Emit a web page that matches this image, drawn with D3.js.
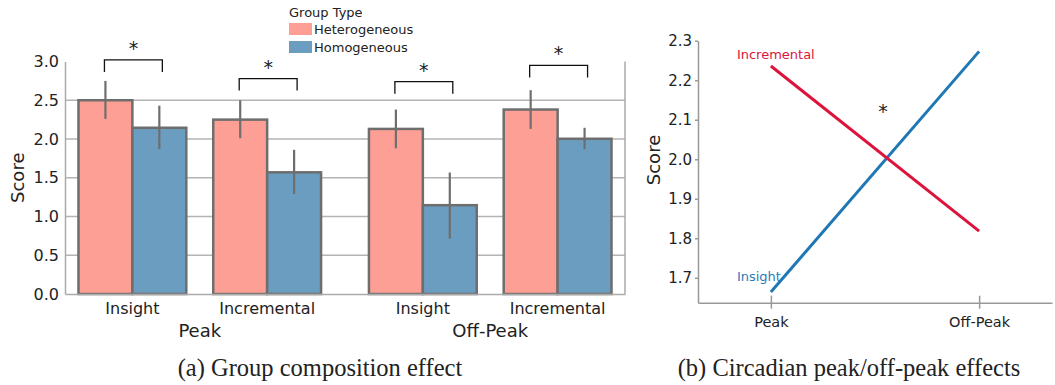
<!DOCTYPE html>
<html>
<head>
<meta charset="utf-8">
<script src="https://cdn.jsdelivr.net/npm/d3@7"></script>
<style>
  body { margin: 0; background: #fff; }
  text { font-family: "DejaVu Sans", Verdana, sans-serif; fill: #222; }
  .caption { font-family: "Liberation Serif", "DejaVu Serif", serif; }
</style>
</head>
<body>
<div id="chart"></div>
<script>
// ---- data: (a) group composition ----
var phases = ["Peak", "Off-Peak"];
var tasks = ["Insight", "Incremental"];
var groupTypes = ["Heterogeneous", "Homogeneous"];
// order: Peak-Insight, Peak-Incremental, Off-Peak-Insight, Off-Peak-Incremental
var heteroMeans = [2.50, 2.25, 2.13, 2.38];
var heteroLow = [2.26, 2.01, 1.88, 2.13];
var heteroHigh = [2.75, 2.50, 2.38, 2.63];
var homoMeans = [2.145, 1.57, 1.146, 2.003];
var homoLow = [1.87, 1.29, 0.715, 1.87];
var homoHigh = [2.43, 1.86, 1.567, 2.145];
var bracketTops = [3.02, 2.78, 2.74, 2.95];
var scoreTicks = [0, 0.5, 1.0, 1.5, 2.0, 2.5, 3.0];

// ---- data: (b) circadian ----
var insightScores = [1.664, 2.273];
var incrementalScores = [2.236, 1.818];
var circTicks = [1.7, 1.8, 1.9, 2.0, 2.1, 2.2, 2.3];
var circStarScore = 2.13;

var colors = { Heterogeneous: "#fe9f95", Homogeneous: "#6b9dc0" };
var lineColors = { Insight: "#1f77b4", Incremental: "#dc143c" };

var svg = d3.select("#chart")
    .append("svg")
    .attr("width", 1055)
    .attr("height", 385);

// =========== panel (a) ===========
var a = { left: 65, right: 625, top: 61.5, bottom: 294 };

var yA = d3.scaleLinear().domain([0, 3]).range([a.bottom, a.top]);
var xOuter = d3.scaleBand().domain(phases).range([a.left, a.right])
    .paddingInner(0.072).paddingOuter(0);
var xInner = d3.scaleBand().domain(tasks).range([0, xOuter.bandwidth()])
    .paddingInner(0.2).paddingOuter(0.1);
var xGroup = d3.scaleBand().domain(groupTypes).range([0, xInner.bandwidth()]);

// gridlines
svg.append("g").selectAll("line")
    .data(scoreTicks.slice(1, -1))
    .enter()
    .append("line")
    .attr("x1", a.left).attr("x2", a.right)
    .attr("y1", d => yA(d)).attr("y2", d => yA(d))
    .attr("stroke", "#b4b4b4")
    .attr("stroke-width", 1.5);

// right frame
svg.append("line")
    .attr("x1", a.right).attr("x2", a.right)
    .attr("y1", a.top).attr("y2", a.bottom)
    .attr("stroke", "#aaa").attr("stroke-width", 1.5);

var rows = [];
phases.forEach(function (p, pi) {
    tasks.forEach(function (t, ti) {
        var i = pi * 2 + ti;
        rows.push({ phase: p, task: t, group: "Heterogeneous", mean: heteroMeans[i], lo: heteroLow[i], hi: heteroHigh[i], idx: i });
        rows.push({ phase: p, task: t, group: "Homogeneous", mean: homoMeans[i], lo: homoLow[i], hi: homoHigh[i], idx: i });
    });
});

function barX(d) { return xOuter(d.phase) + xInner(d.task) + xGroup(d.group); }

svg.append("g").selectAll("rect")
    .data(rows)
    .enter()
    .append("rect")
    .attr("x", d => barX(d))
    .attr("y", d => yA(d.mean))
    .attr("width", xGroup.bandwidth())
    .attr("height", d => yA(0) - yA(d.mean))
    .attr("fill", d => colors[d.group])
    .attr("stroke", "#6e6e6e")
    .attr("stroke-width", 2.5);

svg.append("g").selectAll("line")
    .data(rows)
    .enter()
    .append("line")
    .attr("x1", d => barX(d) + xGroup.bandwidth() / 2)
    .attr("x2", d => barX(d) + xGroup.bandwidth() / 2)
    .attr("y1", d => yA(d.lo))
    .attr("y2", d => yA(d.hi))
    .attr("stroke", "#6e6e6e")
    .attr("stroke-width", 2.2);

// axes
svg.append("g")
    .attr("transform", `translate(${a.left},0)`)
    .call(d3.axisLeft(yA).tickValues(scoreTicks).tickFormat(d3.format(".1f")).tickSize(0).tickPadding(6))
    .call(g => g.select(".domain").attr("stroke", "#aaa").attr("stroke-width", 1.5))
    .call(g => g.selectAll("text").attr("font-size", 16).attr("font-family", "DejaVu Sans").attr("fill", "#222"));

svg.append("g")
    .attr("transform", `translate(0,${a.bottom})`)
    .call(d3.axisBottom(xOuter).tickSize(0).tickPadding(30))
    .call(g => g.select(".domain").attr("stroke", "#aaa").attr("stroke-width", 1.5))
    .call(g => g.selectAll("text").attr("font-size", 18).attr("font-family", "DejaVu Sans").attr("fill", "#222"));

phases.forEach(function (p) {
    svg.append("g")
        .attr("transform", `translate(${xOuter(p)},${a.bottom})`)
        .call(d3.axisBottom(xInner).tickSize(0).tickPadding(9))
        .call(g => g.select(".domain").remove())
        .call(g => g.selectAll("text").attr("font-size", 16).attr("font-family", "DejaVu Sans").attr("fill", "#222"));
});

svg.append("text")
    .attr("transform", "rotate(-90)")
    .attr("x", -(a.top + a.bottom) / 2)
    .attr("y", 24)
    .attr("text-anchor", "middle")
    .attr("font-size", 18)
    .text("Score");

// significance brackets
var pairs = [];
phases.forEach(function (p, pi) {
    tasks.forEach(function (t, ti) {
        var x0 = xOuter(p) + xInner(t);
        pairs.push({ x1: x0 + xGroup.bandwidth() / 2 - 1, x2: x0 + xGroup.bandwidth() * 1.5 + 3, top: bracketTops[pi * 2 + ti] });
    });
});

svg.append("g").selectAll("path")
    .data(pairs)
    .enter()
    .append("path")
    .attr("d", d => `M${d.x1},${yA(d.top) + 12}V${yA(d.top)}H${d.x2}V${yA(d.top) + 12}`)
    .attr("fill", "none")
    .attr("stroke", "#111")
    .attr("stroke-width", 1.3);

svg.append("g").selectAll("text")
    .data(pairs)
    .enter()
    .append("text")
    .attr("x", d => (d.x1 + d.x2) / 2)
    .attr("y", d => yA(d.top) - 5)
    .attr("text-anchor", "middle")
    .attr("font-size", 19)
    .text("*");

// legend
var legend = svg.append("g").attr("transform", "translate(289,0)");
legend.append("text").attr("x", 0).attr("y", 17).attr("font-size", 13).text("Group Type");
groupTypes.forEach(function (g, i) {
    legend.append("rect")
        .attr("x", 0).attr("y", 23 + i * 18)
        .attr("width", 23).attr("height", 12)
        .attr("fill", colors[g]);
    legend.append("text")
        .attr("x", 25).attr("y", 34 + i * 18)
        .attr("font-size", 13)
        .text(g);
});

svg.append("text")
    .attr("class", "caption")
    .attr("x", 320).attr("y", 376)
    .attr("text-anchor", "middle")
    .attr("font-size", 24.5)
    .text("(a) Group composition effect");

// =========== panel (b) ===========
var b = { left: 698, right: 1052, top: 40.7, bottom: 302.7 };

var yB = d3.scaleLinear().domain([1.637, 2.3]).range([b.bottom, b.top]);
var xB = d3.scalePoint().domain(phases).range([b.left, b.right]).padding(0.35);

svg.append("g")
    .attr("transform", `translate(${b.left},0)`)
    .call(d3.axisLeft(yB).tickValues(circTicks).tickFormat(d3.format(".1f")).tickSizeInner(3).tickSizeOuter(0).tickPadding(3))
    .call(g => g.selectAll("line, .domain").attr("stroke", "#999").attr("stroke-width", 1.5))
    .call(g => g.selectAll("text").attr("font-size", 15).attr("font-family", "DejaVu Sans").attr("fill", "#222"));

svg.append("g")
    .attr("transform", `translate(0,${b.bottom})`)
    .call(d3.axisBottom(xB).tickSizeInner(-7).tickSizeOuter(0).tickPadding(14))
    .call(g => g.selectAll("line, .domain").attr("stroke", "#999").attr("stroke-width", 1.5))
    .call(g => g.selectAll(".tick line").attr("y2", 6).attr("y1", -7))
    .call(g => g.selectAll("text").attr("font-size", 14.5).attr("font-family", "DejaVu Sans").attr("fill", "#222"));

var series = [
    { name: "Insight", values: insightScores, dy: -11 },
    { name: "Incremental", values: incrementalScores, dy: -7 }
];

var line = d3.line()
    .x((d, i) => xB(phases[i]))
    .y(d => yB(d));

svg.append("g").selectAll("path")
    .data(series)
    .enter()
    .append("path")
    .attr("d", d => line(d.values))
    .attr("fill", "none")
    .attr("stroke", d => lineColors[d.name])
    .attr("stroke-width", 3);

svg.append("g").selectAll("text")
    .data(series)
    .enter()
    .append("text")
    .attr("x", xB(phases[0]) - 34)
    .attr("y", d => yB(d.values[0]) + d.dy)
    .attr("font-size", 13)
    .style("fill", d => d.name === "Insight" ? "#2b7bba" : lineColors[d.name])
    .text(d => d.name);

svg.append("text")
    .attr("x", (xB(phases[0]) + xB(phases[1])) / 2 + 8)
    .attr("y", yB(circStarScore) + 10)
    .attr("text-anchor", "middle")
    .attr("font-size", 19)
    .text("*");

svg.append("text")
    .attr("transform", "rotate(-90)")
    .attr("x", -160)
    .attr("y", 660)
    .attr("text-anchor", "middle")
    .attr("font-size", 18)
    .text("Score");

svg.append("text")
    .attr("class", "caption")
    .attr("x", 849).attr("y", 376)
    .attr("text-anchor", "middle")
    .attr("font-size", 24.5)
    .text("(b) Circadian peak/off-peak effects");
</script>
</body>
</html>
